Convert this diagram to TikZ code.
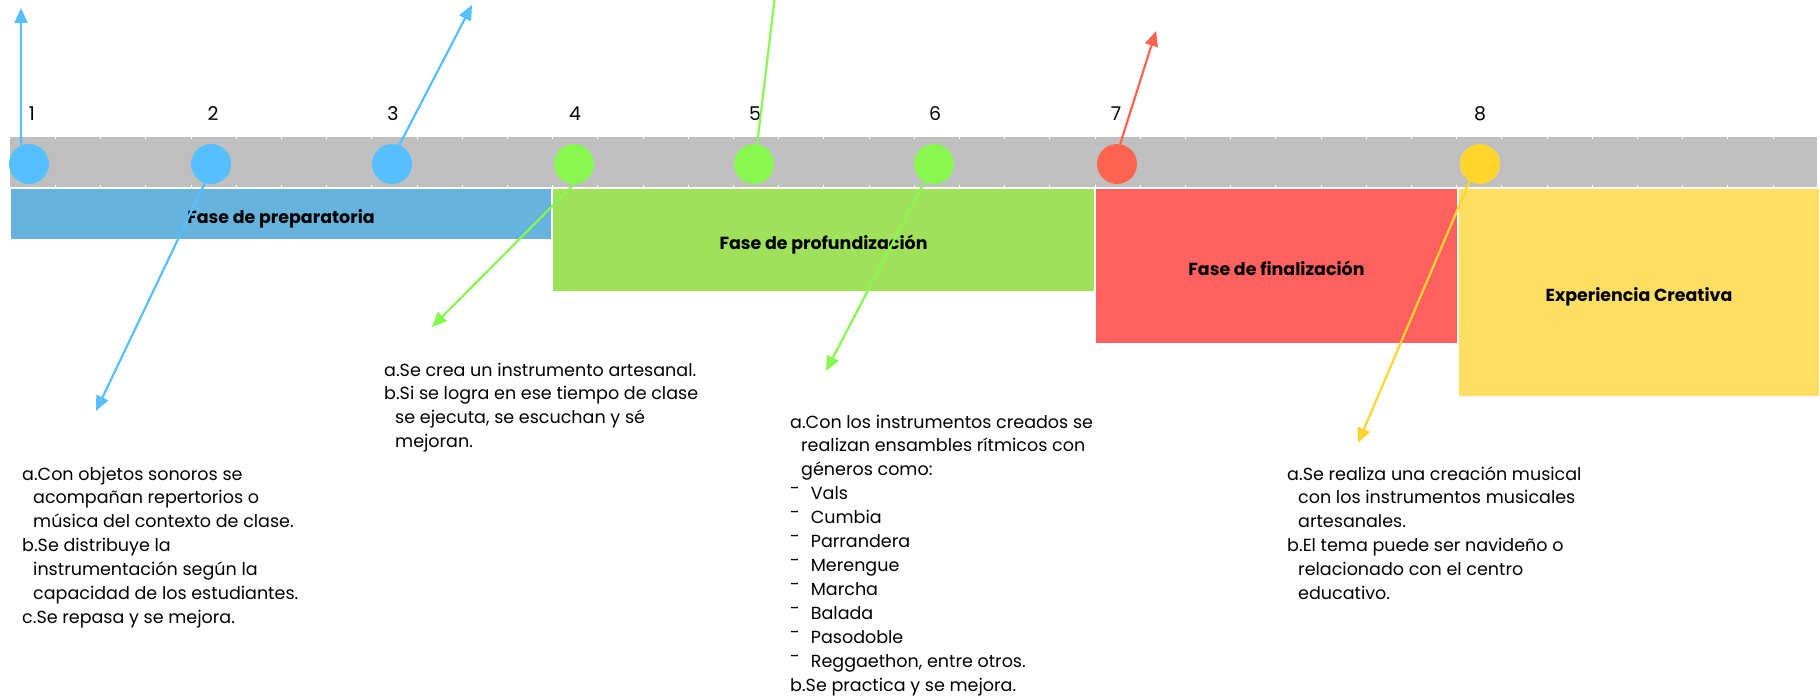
\documentclass[tikz,border=0pt]{standalone}
\usepackage{fontspec}
\setmainfont{Poppins}
\usetikzlibrary{arrows.meta}
\definecolor{barg}{HTML}{BFBFBF}
\definecolor{cblue}{HTML}{56BFFF}
\definecolor{cgreen}{HTML}{88F74F}
\definecolor{cred}{HTML}{FF6450}
\definecolor{cyel}{HTML}{FFD52E}
\definecolor{bblue}{HTML}{66B3DE}
\definecolor{bgreen}{HTML}{A0E15C}
\definecolor{bred}{HTML}{FF6060}
\definecolor{byel}{HTML}{FFDF63}
\newcommand\myind{\hspace*{11bp}}
\newcommand\mydash{\raisebox{5bp}{-}\hspace*{11bp}}
\begin{document}
\begin{tikzpicture}[x=1bp,y=-1bp,
  dot/.style={circle,minimum size=40bp,inner sep=0,draw=none},
  phase/.style={draw=none,inner sep=0,text height=18bp,text depth=0bp,font=\fontsize{17.5}{20}\selectfont\bfseries},
  num/.style={font=\fontsize{19}{22}\selectfont,inner sep=0},
  desc/.style={anchor=base west,inner sep=0,font=\fontsize{17.6}{24}\selectfont},
  arr/.style={line width=2.2bp,-{Triangle[length=15bp,width=13bp]}}]
\useasboundingbox (0,0) rectangle (1820,698);
% bar
\fill[barg] (10,137) rectangle (1817,187);
\foreach \i in {0,...,38}{
  \draw[white,line width=1bp] ({55.4+45.2*\i},137) -- ++(0,2.5);
  \draw[white,line width=1bp] ({55.4+45.2*\i},187) -- ++(0,-2.5);
}
% phases
\node[phase,fill=bblue,minimum width=540bp,minimum height=50bp] (p1) at (281,214) {Fase de preparatoria};
\node[phase,fill=bgreen,minimum width=541bp,minimum height=102bp] (p2) at (823.5,240) {Fase de profundización};
\node[phase,fill=bred,minimum width=361bp,minimum height=154bp] (p3) at (1276.5,266) {Fase de finalización};
\node[phase,fill=byel,minimum width=360bp,minimum height=207bp] (p4) at (1639,292.5) {Experiencia Creativa};
% circles
\node[dot,fill=cblue] (c1) at (29,164) {};
\node[dot,fill=cblue] (c2) at (211,164) {};
\node[dot,fill=cblue] (c3) at (392,164) {};
\node[dot,fill=cgreen] (c4) at (574,164) {};
\node[dot,fill=cgreen] (c5) at (754,164) {};
\node[dot,fill=cgreen] (c6) at (934,164) {};
\node[dot,fill=cred] (c7) at (1117,164) {};
\node[dot,fill=cyel] (c8) at (1480,164) {};
% numbers
\node[num] (n1) at (32,114) {1};
\node[num] (n2) at (213,114) {2};
\node[num] (n3) at (393,114) {3};
\node[num] (n4) at (575,114) {4};
\node[num] (n5) at (755,114) {5};
\node[num] (n6) at (935,114) {6};
\node[num] (n7) at (1116,114) {7};
\node[num] (n8) at (1480,114) {8};
% arrow ends
\coordinate (t1) at (21,8);
\coordinate (t2) at (96,411);
\coordinate (t3) at (472,5);
\coordinate (t4) at (432,327);
\coordinate (t5) at (774.5,0);
\coordinate (t6) at (826,371);
\coordinate (t7) at (1156,31);
\coordinate (t8) at (1358,443);
% arrows
\draw[arr,cblue] (c1.113) -- (t1);
\draw[arr,cblue] (c2.252) -- (t2);
\draw[arr,cblue] (c3.69) -- (t3);
\draw[arr,cgreen] (c4.270) -- (t4);
\draw[line width=2.2bp,cgreen] (c5.81) -- (t5);
\draw[arr,cgreen] (c6.242) -- (t6);
\draw[arr,cred] (c7.81) -- (t7);
\draw[arr,cyel] (c8.239) -- (t8);
% descriptions
\node[desc] (d1) at (22,480) {\begin{tabular}[t]{@{}l@{}}
a.Con objetos sonoros se\\
\myind acompañan repertorios o\\
\myind música del contexto de clase.\\
b.Se distribuye la\\
\myind instrumentación según la\\
\myind capacidad de los estudiantes.\\
c.Se repasa y se mejora.
\end{tabular}};
\node[desc] (d2) at (384,376) {\begin{tabular}[t]{@{}l@{}}
a.Se crea un instrumento artesanal.\\
b.Si se logra en ese tiempo de clase\\
\myind se ejecuta, se escuchan y sé\\
\myind mejoran.
\end{tabular}};
\node[desc] (d3) at (790,428) {\begin{tabular}[t]{@{}l@{}}
a.Con los instrumentos creados se\\
\myind realizan ensambles rítmicos con\\
\myind géneros como:\\
\mydash Vals\\
\mydash Cumbia\\
\mydash Parrandera\\
\mydash Merengue\\
\mydash Marcha\\
\mydash Balada\\
\mydash Pasodoble\\
\mydash Reggaethon, entre otros.\\
b.Se practica y se mejora.
\end{tabular}};
\node[desc] (d4) at (1287,480) {\begin{tabular}[t]{@{}l@{}}
a.Se realiza una creación musical\\
\myind con los instrumentos musicales\\
\myind artesanales.\\
b.El tema puede ser navideño o\\
\myind relacionado con el centro\\
\myind educativo.
\end{tabular}};
\end{tikzpicture}
\end{document}
